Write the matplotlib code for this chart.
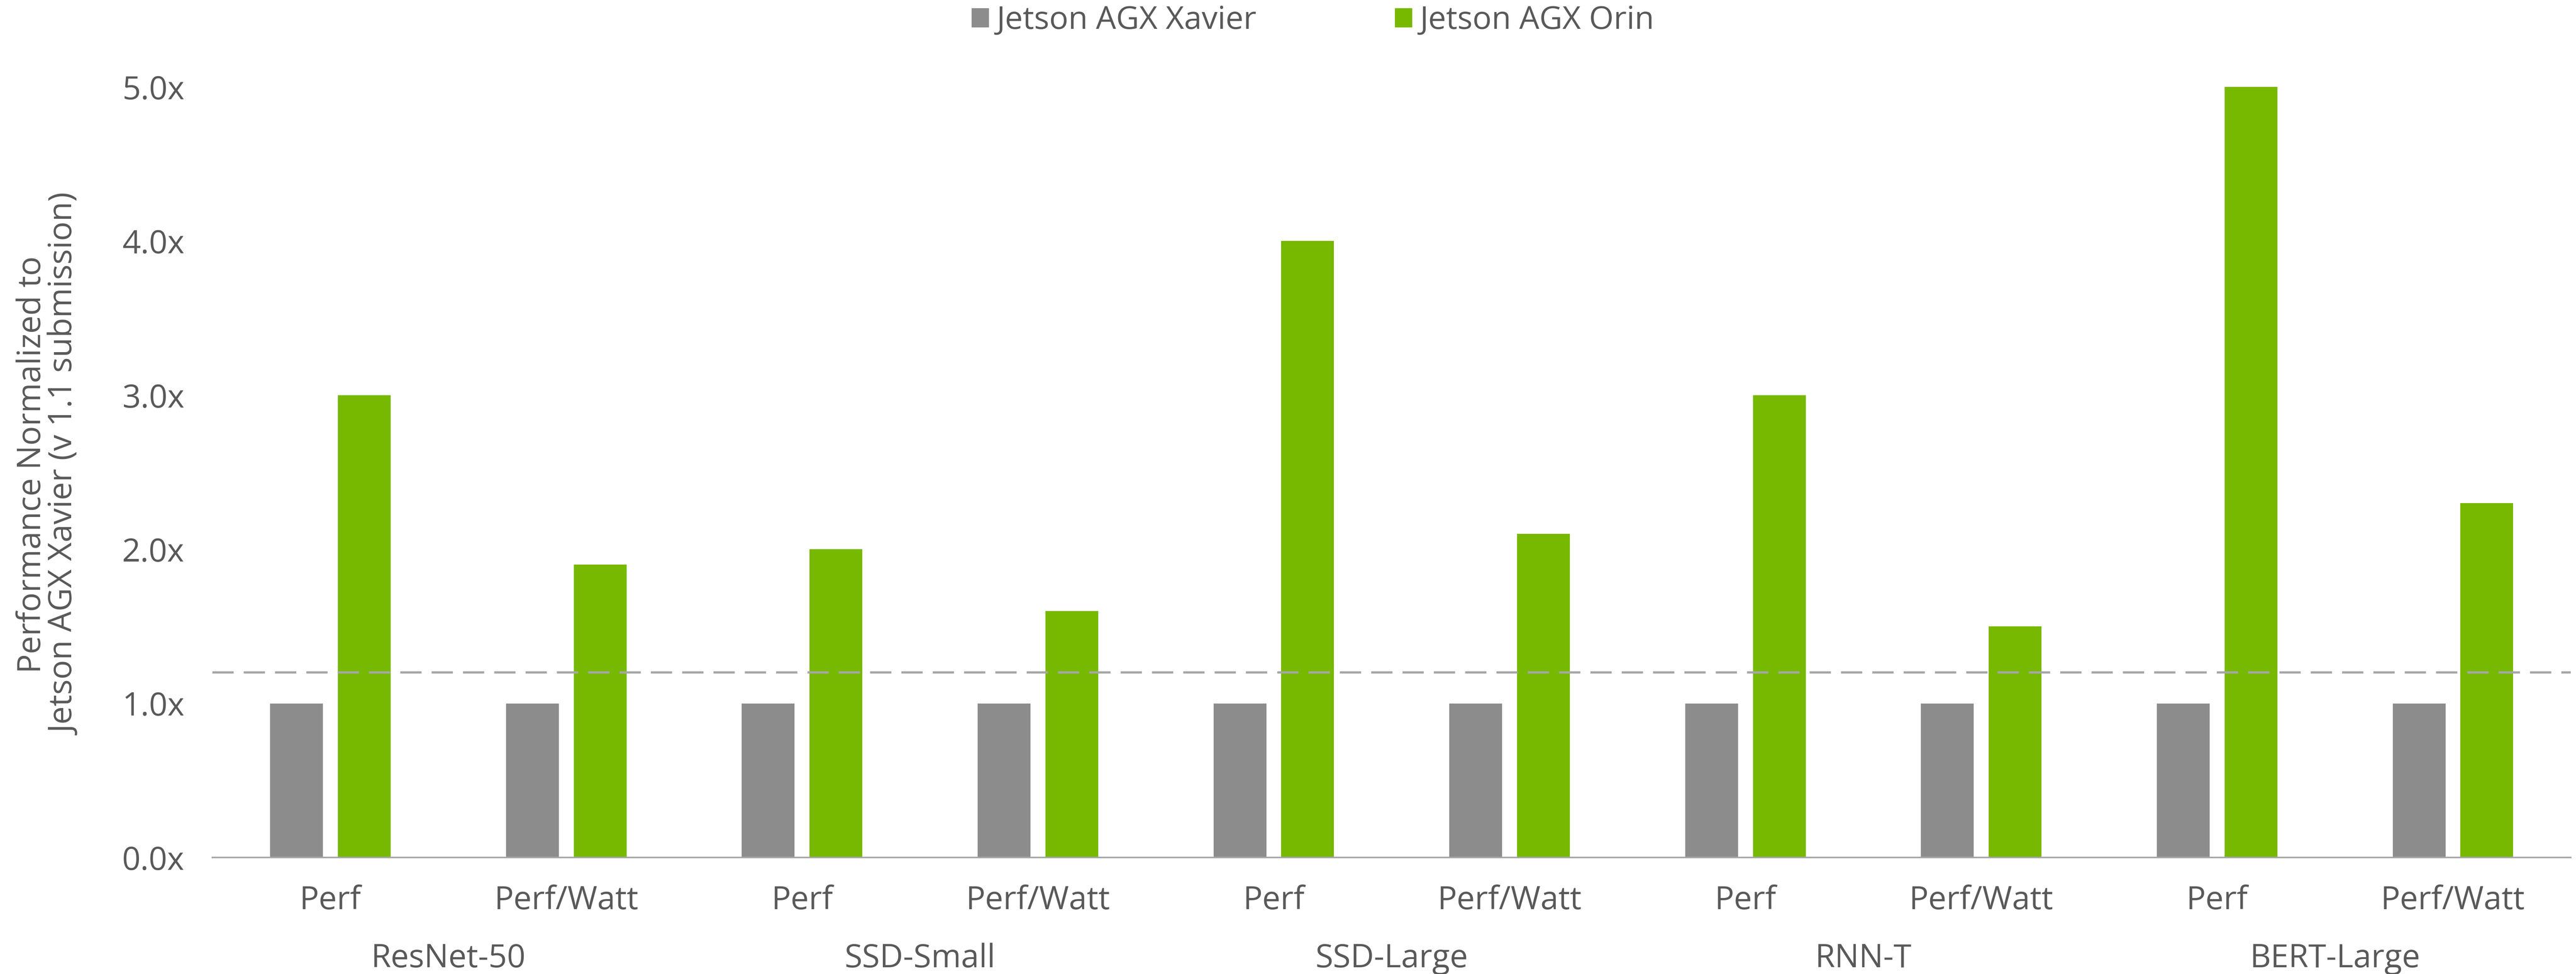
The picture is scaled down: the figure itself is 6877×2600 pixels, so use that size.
import numpy as np
import matplotlib
matplotlib.use("Agg")
import matplotlib.pyplot as plt
from matplotlib.patches import Patch

# DATA
models = ["ResNet-50", "SSD-Small", "SSD-Large", "RNN-T", "BERT-Large"]
metrics = ["Perf", "Perf/Watt"]
xavier = [1.0, 1.0, 1.0, 1.0, 1.0, 1.0, 1.0, 1.0, 1.0, 1.0]
orin = [3.0, 1.9, 2.0, 1.6, 4.0, 2.1, 3.0, 1.5, 5.0, 2.3]
ref_level = 1.2
yticks = [0, 1, 2, 3, 4, 5]

GRAY = "#8C8C8C"
GREEN = "#76B900"
TXT = "#595959"
FS = 62

plt.rcParams["font.family"] = ["Open Sans", "DejaVu Sans"]

fig = plt.figure(figsize=(68.77, 26), dpi=100)
ax = fig.add_axes([0.0825, 0.1196, 0.9155, 0.7912])

x = np.arange(len(xavier))
w = 0.224
off = 0.1435
ax.bar(x - off, xavier, w, color=GRAY, zorder=2)
ax.bar(x + off, orin, w, color=GREEN, zorder=2)

# dashed reference line
ax.axhline(ref_level, color="#A6A6A6", lw=4.3, linestyle=(0, (9.5, 4.5)), zorder=3)

ax.set_xlim(-0.5, len(xavier) - 0.5)
ax.set_ylim(0, 5.0)
ax.set_yticks(yticks)
ax.set_yticklabels([f"{v:.1f}x" for v in yticks])
ax.set_xticks(x)
ax.set_xticklabels(metrics * len(models))
ax.tick_params(axis="both", length=0, labelsize=FS, colors=TXT)
ax.tick_params(axis="x", pad=52)
ax.tick_params(axis="y", pad=54)

for s in ["top", "right", "left"]:
    ax.spines[s].set_visible(False)
ax.spines["bottom"].set_color("#A6A6A6")
ax.spines["bottom"].set_linewidth(3)
ax.spines["bottom"].set_zorder(4)

# model group labels
for i, m in enumerate(models):
    ax.text(2 * i + 0.5, -0.712, m, ha="center", va="baseline", fontsize=FS, color=TXT, clip_on=False)

ax.set_ylabel("Performance Normalized to\nJetson AGX Xavier (v 1.1 submission)",
              fontsize=FS, color=TXT, linespacing=1.05)
ax.yaxis.set_label_coords(-0.0553, 0.51)

handles = [Patch(color=GRAY, label="Jetson AGX Xavier"), Patch(color=GREEN, label="Jetson AGX Orin")]
leg = fig.legend(handles=handles, loc="center", bbox_to_anchor=(0.5097, 0.979), ncol=2, frameon=False,
                 fontsize=61, handlelength=0.53, handleheight=0.53, handletextpad=0.26, columnspacing=4.36)
for t in leg.get_texts():
    t.set_color(TXT)

fig.savefig("out.png", dpi=100)
